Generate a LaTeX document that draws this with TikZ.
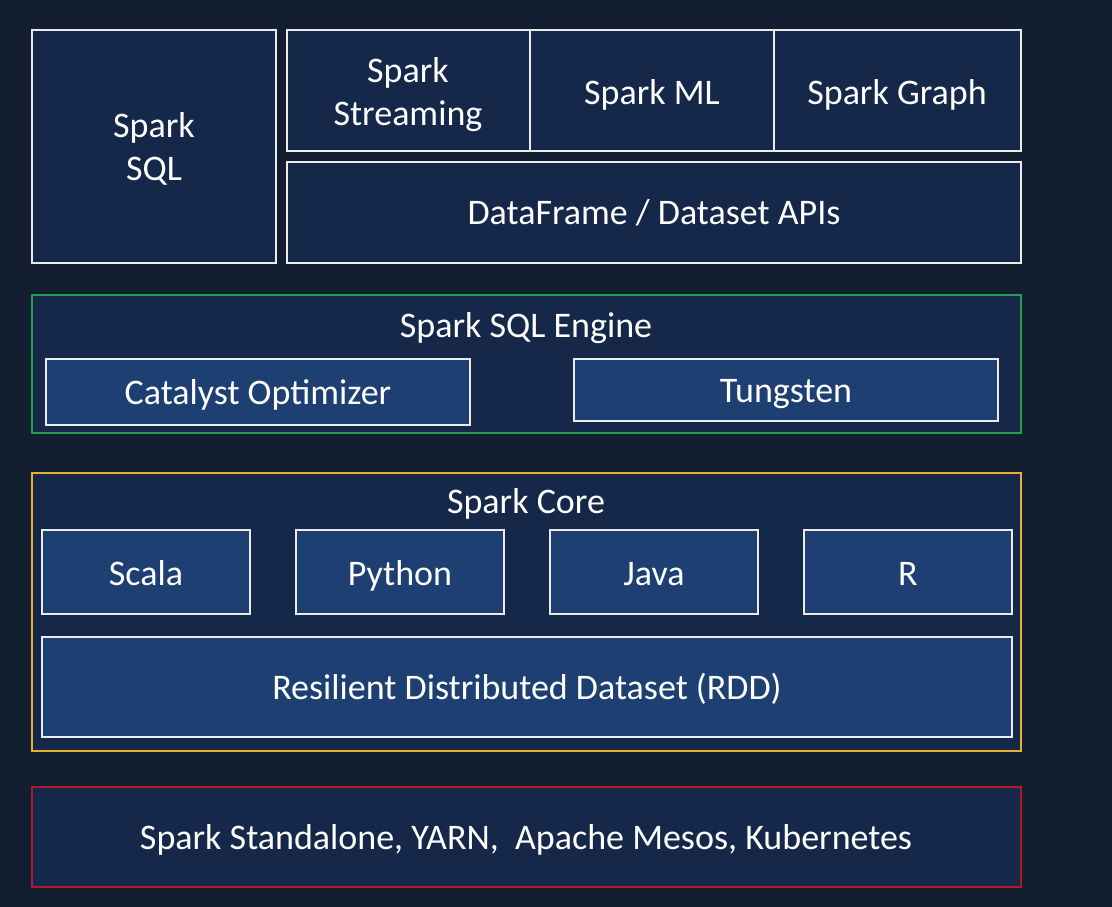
\documentclass[tikz,border=0pt]{standalone}
\usepackage{fontspec}
\setmainfont{Carlito}
\definecolor{bgc}{HTML}{131E30}
\definecolor{boxc}{HTML}{15284A}
\definecolor{innerc}{HTML}{1E3F72}
\definecolor{greenc}{HTML}{22A050}
\definecolor{yellowc}{HTML}{E8B030}
\definecolor{redc}{HTML}{B01828}
\begin{document}
\begin{tikzpicture}[x=1pt,y=-1pt,
  txt/.style={text=white,font=\fontsize{36}{43}\selectfont,anchor=base,inner sep=0pt},
  wbox/.style={draw=white!92!black,line width=2pt,fill=boxc},
  ibox/.style={draw=white!92!black,line width=2pt,fill=innerc}]
\fill[bgc] (0,0) rectangle (1112,907);
\useasboundingbox (0,0) rectangle (1112,907);
% top layer
\draw[wbox] (32,30) rectangle (276,263);
\node[txt] (sqla) at (154,137) {Spark};
\node[txt] (sqlb) at (154,180) {SQL};
\draw[wbox] (287,30) rectangle (530,151);
\node[txt] (streama) at (408,82) {Spark};
\node[txt] (streamb) at (408,125) {Streaming};
\draw[wbox] (530,30) rectangle (774,151);
\node[txt] (ml) at (652,104) {Spark ML};
\draw[wbox] (774,30) rectangle (1021,151);
\node[txt] (graph) at (897,104) {Spark Graph};
\draw[wbox] (287,162) rectangle (1021,263);
\node[txt] (df) at (654,224) {DataFrame / Dataset APIs};
% engine
\draw[draw=greenc,line width=2pt,fill=boxc] (32,295) rectangle (1021,433);
\node[txt] (eng) at (526,337) {Spark SQL Engine};
\draw[ibox] (46,359) rectangle (470,425);
\node[txt] (cat) at (258,404) {Catalyst Optimizer};
\draw[ibox] (574,359) rectangle (998,421);
\node[txt] (tung) at (786,402) {Tungsten};
% core
\draw[draw=yellowc,line width=2pt,fill=boxc] (32,473) rectangle (1021,751);
\node[txt] (core) at (526,513) {Spark Core};
\draw[ibox] (42,530) rectangle (250,614);
\node[txt] (scala) at (146,585) {Scala};
\draw[ibox] (296,530) rectangle (504,614);
\node[txt] (py) at (400,585) {Python};
\draw[ibox] (550,530) rectangle (758,614);
\node[txt] (java) at (654,585) {Java};
\draw[ibox] (804,530) rectangle (1012,614);
\node[txt] (r) at (908,585) {R};
\draw[ibox] (42,637) rectangle (1012,737);
\node[txt] (rdd) at (527,699) {Resilient Distributed Dataset (RDD)};
% cluster
\draw[draw=redc,line width=2pt,fill=boxc] (32,787) rectangle (1021,887);
\node[txt] (clu) at (526,849) {Spark Standalone, YARN,\ \ Apache Mesos, Kubernetes};
\end{tikzpicture}
\end{document}
